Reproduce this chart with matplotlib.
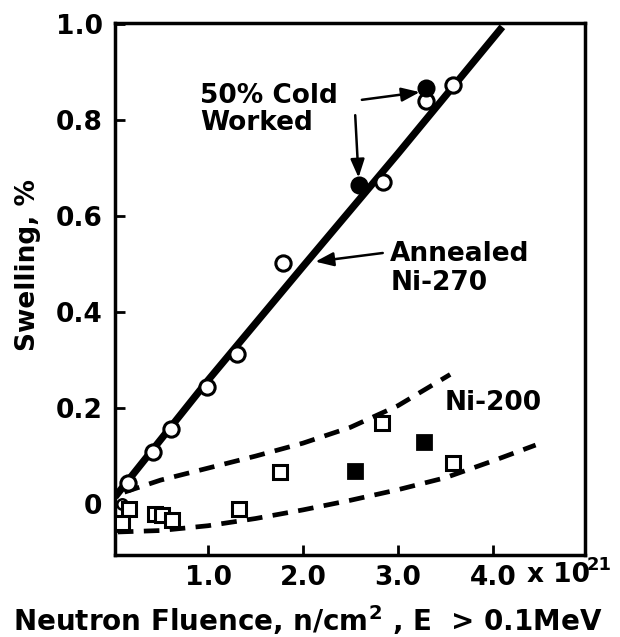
import matplotlib
matplotlib.use("Agg")
import matplotlib.pyplot as plt

plt.rcParams['font.family'] = ['DejaVu Sans']
plt.rcParams['font.weight'] = 'bold'
plt.rcParams['mathtext.default'] = 'bf'

# Ni-270 annealed fit line
fit270_x = [0.02, 1.0, 2.0, 3.0, 4.1]
fit270_y = [0.015, 0.258, 0.495, 0.73, 0.994]

# Ni-200 band (dashed)
band_up_x = [0.12, 0.5, 1.0, 1.5, 2.0, 2.5, 3.0, 3.55]
band_up_y = [0.025, 0.05, 0.075, 0.10, 0.127, 0.16, 0.205, 0.27]
band_lo_x = [0.05, 0.5, 1.0, 1.5, 2.0, 2.5, 3.0, 3.5, 4.0, 4.45]
band_lo_y = [-0.058, -0.055, -0.045, -0.03, -0.012, 0.008, 0.03, 0.055, 0.09, 0.123]

# Ni-270 annealed (open circles)
ni270_ann_x = [0.16, 0.42, 0.61, 0.99, 1.31, 1.79, 2.84, 3.30, 3.58]
ni270_ann_y = [0.044, 0.108, 0.156, 0.244, 0.312, 0.502, 0.670, 0.840, 0.873]
small_circ_x = [0.09]
small_circ_y = [0.0]
# Ni-270 50% cold worked (filled circles)
ni270_cw_x = [2.59, 3.30]
ni270_cw_y = [0.665, 0.866]

# Ni-200 annealed (open squares)
ni200_ann_x = [0.17, 0.09, 0.44, 0.51, 0.62, 1.33, 1.76, 2.83, 3.58]
ni200_ann_y = [-0.01, -0.04, -0.02, -0.023, -0.033, -0.01, 0.067, 0.169, 0.085]
# Ni-200 cold worked (filled squares)
ni200_cw_x = [2.55, 3.27]
ni200_cw_y = [0.068, 0.130]

xticks = [1.0, 2.0, 3.0, 4.0]
xticklabels = ['1.0', '2.0', '3.0', '4.0']
yticks = [0, 0.2, 0.4, 0.6, 0.8, 1.0]
yticklabels = ['0', '0.2', '0.4', '0.6', '0.8', '1.0']

fig = plt.figure(figsize=(6.2, 6.37), dpi=100)
ax = fig.add_axes([0.1855, 0.1287, 0.758, 0.8352])
ax.set_xlim(0.02, 4.97)
ax.set_ylim(-0.106, 1.002)

ax.plot(fit270_x, fit270_y, color='black', lw=5.2, solid_capstyle='butt', zorder=2)
ax.plot(band_up_x, band_up_y, color='black', lw=3.4, dashes=(3.3, 2.2), zorder=2)
ax.plot(band_lo_x, band_lo_y, color='black', lw=3.4, dashes=(3.3, 2.2), zorder=2)

ax.plot(ni270_ann_x, ni270_ann_y, 'o', ms=11, mfc='white', mec='black', mew=2.2, zorder=3)
ax.plot(small_circ_x, small_circ_y, 'o', ms=7.5, mfc='white', mec='black', mew=1.8, zorder=3)
ax.plot(ni270_cw_x, ni270_cw_y, 'o', ms=11, mfc='black', mec='black', mew=2, zorder=4)
ax.plot(ni200_ann_x, ni200_ann_y, 's', ms=9.5, mfc='white', mec='black', mew=2.2, zorder=3)
ax.plot(ni200_cw_x, ni200_cw_y, 's', ms=9.5, mfc='black', mec='black', mew=2, zorder=3)
# error bar on the lowest square
ax.errorbar([0.09], [-0.04], yerr=[[0.015], [0.04]], fmt='none', ecolor='black',
            elinewidth=2, capsize=5, capthick=2, zorder=2)

fs = 19
ax.text(0.92, 0.822, '50% Cold\nWorked', fontsize=fs, fontweight='bold', ha='left',
        va='center', linespacing=1.08)
ap = dict(arrowstyle='-|>,head_length=1.1,head_width=0.42', color='black', lw=1.8,
          shrinkA=0, shrinkB=0)
ax.annotate('', xy=(3.23, 0.858), xytext=(2.62, 0.842), arrowprops=ap)
ax.annotate('', xy=(2.585, 0.68), xytext=(2.55, 0.81), arrowprops=ap)
ax.text(2.92, 0.49, 'Annealed\nNi-270', fontsize=fs, fontweight='bold', ha='left',
        va='center', linespacing=1.15)
ax.annotate('', xy=(2.13, 0.505), xytext=(2.84, 0.523), arrowprops=ap)
ax.text(3.49, 0.21, 'Ni-200', fontsize=fs, fontweight='bold', ha='left', va='center')

ax.set_xticks(xticks)
ax.set_xticklabels(xticklabels)
ax.set_yticks(yticks)
ax.set_yticklabels(yticklabels)
ax.tick_params(direction='in', length=7, width=2, labelsize=fs, top=False, right=False)
ax.tick_params(axis='x', pad=7)
ax.tick_params(axis='y', pad=9)
for lbl in ax.get_xticklabels() + ax.get_yticklabels():
    lbl.set_fontweight('bold')
for s in ax.spines.values():
    s.set_linewidth(2.5)

ax.text(4.36, -0.148, 'x 10', fontsize=fs, fontweight='bold', ha='left', va='center',
        clip_on=False)
ax.text(4.99, -0.126, '21', fontsize=13, fontweight='bold', ha='left', va='center',
        clip_on=False)

ax.set_ylabel('Swelling, %', fontsize=fs, fontweight='bold')
ax.yaxis.set_label_coords(-0.158, 0.545)
ax.set_xlabel('Neutron Fluence, n/cm$^{2}$ , E  > 0.1MeV', fontsize=20, fontweight='bold')
ax.xaxis.set_label_coords(0.41, -0.09)

fig.savefig('out.png', dpi=100)
